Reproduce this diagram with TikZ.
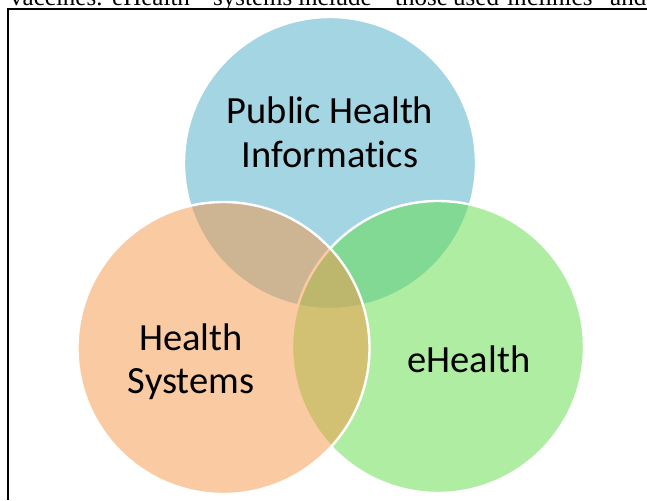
\documentclass[tikz,border=0pt]{standalone}
\usepackage{fontspec}
\setmainfont{Carlito}[RawFeature=-liga]
\newfontfamily\serifx{Liberation Serif}
\definecolor{vblue}{RGB}{75,172,198}
\definecolor{vgreen}{RGB}{96,222,70}
\definecolor{vorange}{RGB}{247,150,70}
\tikzset{
  venn/.style={circle, inner sep=0pt, minimum size=292pt, fill opacity=0.5, draw=white, draw opacity=1, line width=2.4pt},
  lbl/.style={anchor=base, inner sep=0pt, text=black, font=\fontsize{38.5}{43}\selectfont},
  toptext/.style={anchor=base west, inner sep=0pt, text=black, font=\serifx\fontsize{25}{30}\selectfont},
  frameline/.style={draw=black, line width=1.3pt}
}
\begin{document}
\begin{tikzpicture}[x=1pt,y=-1pt]
\useasboundingbox (0,0) rectangle (647,500);
\fill[white] (0,0) rectangle (647,500);
\begin{scope}
\clip (0,0) rectangle (647,8.5);
\node[toptext] (w1) at (10,5.5) {vaccines.};
\node[toptext] (w2) at (112,5.5) {eHealth};
\node[toptext] (w3) at (213,5.5) {systems};
\node[toptext] (w4) at (298,5.5) {include};
\node[toptext] (w5) at (395,5.5) {those};
\node[toptext] (w6) at (453,5.5) {used};
\node[toptext] (w7) at (507,5.5) {in};
\node[toptext] (w8) at (527,5.5) {clinics};
\node[toptext] (w9) at (610,5.5) {and};
\end{scope}
\coordinate (fbl) at (8,500);
\coordinate (ftl) at (8,9);
\coordinate (ftr) at (647,9);
\draw[frameline] (fbl) -- (ftl) -- (ftr);
\node[venn, fill=vblue] (pub) at (330,163) {};
\node[venn, fill=vgreen] (ehc) at (438,347) {};
\node[venn, fill=vorange] (hsc) at (223.5,348) {};
\node[lbl] (phi1) at (330,124) {Public Health};
\node[lbl] (phi2) at (330,167) {Informatics};
\node[lbl] (hs1) at (191,350) {Health};
\node[lbl] (hs2) at (191,393) {Systems};
\node[lbl] (eh) at (469,372) {eHealth};
\end{tikzpicture}
\end{document}
